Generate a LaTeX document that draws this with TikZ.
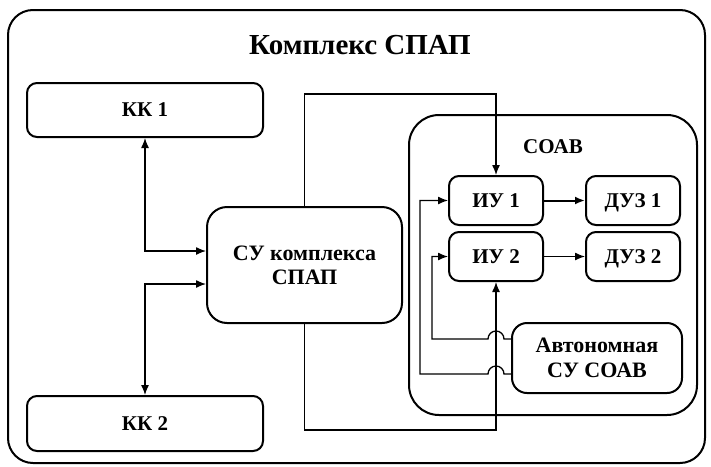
\documentclass[tikz,border=0pt]{standalone}
\usepackage{fontspec}
\setmainfont{Liberation Serif}
\usepackage{tikz}
\usetikzlibrary{calc}
\usetikzlibrary{arrows.meta}

\begin{document}
\begin{tikzpicture}[x=1pt, y=-1pt, line width=1.3pt,
    box/.style={draw, line width=2pt, rounded corners=#1, align=center,
        font=\bfseries\fontsize{21}{24}\selectfont, inner sep=0pt},
    box/.default=10pt,
    arr/.style={-{Latex[length=10pt,width=8pt]}},
    biarr/.style={{Latex[length=10pt,width=8pt]}-{Latex[length=10pt,width=8pt]}}]

    \useasboundingbox (0,0) rectangle (711,466);

    % outer frames
    \node[box=25pt, minimum width=697pt, minimum height=453pt] (spap) at (356.5,236.5) {};
    \node[font=\bfseries\fontsize{29}{31}\selectfont] (title) at (360,45) {Комплекс СПАП};

    \node[box=30pt, minimum width=288pt, minimum height=300pt] (soav) at (553,265) {};
    \node[font=\bfseries\fontsize{21}{24}\selectfont] (soavtitle) at (553,147) {СОАВ};

    % blocks
    \node[box, minimum width=236pt, minimum height=54pt] (kk1) at (145,110) {КК 1};
    \node[box, minimum width=236pt, minimum height=55pt] (kk2) at (145,423.5) {КК 2};
    \node[box=20pt, minimum width=195pt, minimum height=116pt,
        font=\bfseries\fontsize{22}{24}\selectfont] (su) at (304.5,265) {СУ комплекса\\СПАП};

    \node[box, minimum width=94pt, minimum height=49pt] (iu1) at (496,200.5) {ИУ 1};
    \node[box, minimum width=94pt, minimum height=49pt] (iu2) at (496,256.5) {ИУ 2};
    \node[box, minimum width=94pt, minimum height=49pt, text depth=0pt] (duz1) at (633,200.5) {ДУЗ 1};
    \node[box, minimum width=94pt, minimum height=49pt, text depth=0pt] (duz2) at (633,256.5) {ДУЗ 2};
    \node[box=15pt, minimum width=170pt, minimum height=70pt,
        font=\bfseries\fontsize{22}{25}\selectfont] (auto) at (597,358) {Автономная\\СУ СОАВ};

    % helper points
    \coordinate (su1) at ([yshift=14pt]su.west);
    \coordinate (su2) at ([yshift=-19pt]su.west);
    \coordinate (top) at (su.north |- 0,94);
    \coordinate (bot) at (su.south |- 0,430);
    \coordinate (au1) at ([yshift=19pt]auto.west);
    \coordinate (au2) at ([yshift=-16pt]auto.west);

    % connections
    \draw[biarr] (kk1.south) |- (su1);
    \draw[biarr] (kk2.north) |- (su2);
    \draw[arr] (su.north) -- (top) -| (iu1.north);
    \draw[arr] (su.south) -- (bot) -| (iu2.south);

    \draw[arr, line width=2pt] (iu1) -- (duz1);
    \draw[arr] (iu2) -- (duz2);

    \draw[arr] (au1) -- (au1 -| 504,0)
        arc[start angle=0, end angle=180, radius=8pt]
        -- (au1 -| 432,0) |- (iu2.west);
    \draw[arr] (au2) -- (au2 -| 504,0)
        arc[start angle=0, end angle=180, radius=8pt]
        -- (au2 -| 420,0) |- (iu1.west);
\end{tikzpicture}
\end{document}
